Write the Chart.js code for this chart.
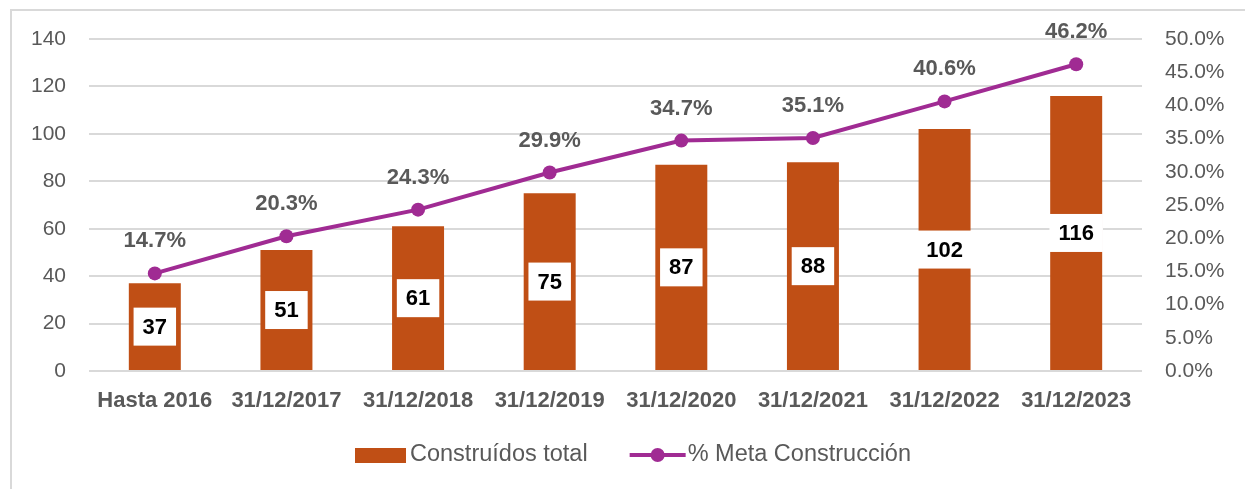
<!DOCTYPE html>
<html>
<head>
<meta charset="utf-8">
<script src="https://cdn.jsdelivr.net/npm/chart.js@4.4.1/dist/chart.umd.min.js"></script>
<style>
    html, body { margin: 0; padding: 0; background: #fff; overflow: hidden; }
    #wrap { position: relative; width: 1245px; height: 489px; }
    #frame { position: absolute; left: 10px; top: 9px; width: 1400px; height: 700px; border: 2px solid #d9d9d9; box-sizing: border-box; }
    #chart { position: absolute; left: 0; top: 0; }
</style>
</head>
<body>
<div id="wrap">
    <div id="frame"></div>
    <canvas id="chart" width="1245" height="489"></canvas>
</div>
<script>
// Chart data
const categories = ['Hasta 2016', '31/12/2017', '31/12/2018', '31/12/2019', '31/12/2020', '31/12/2021', '31/12/2022', '31/12/2023'];
const construidos = [37, 51, 61, 75, 87, 88, 102, 116];
const metaPct = [0.147, 0.203, 0.243, 0.299, 0.347, 0.351, 0.406, 0.462];
const leftTicks = [0, 20, 40, 60, 80, 100, 120, 140];
const rightTicks = [0, 0.05, 0.10, 0.15, 0.20, 0.25, 0.30, 0.35, 0.40, 0.45, 0.50];

const BAR_COLOR = '#C04F15';
const LINE_COLOR = '#A02B93';
const TEXT_COLOR = '#595959';
const GRID_COLOR = '#D9D9D9';
const FONT = '"Liberation Sans", Arial, sans-serif';

// value labels: white boxes in the bars, percentages above the points
const valueLabels = {
    id: 'valueLabels',
    afterDatasetsDraw(chart) {
        const ctx = chart.ctx;
        ctx.save();
        ctx.textAlign = 'center';
        ctx.textBaseline = 'middle';

        const bars = chart.getDatasetMeta(0).data;
        ctx.font = 'bold 22px ' + FONT;
        bars.forEach((bar, i) => {
            const txt = String(construidos[i]);
            const cy = (bar.y + bar.base) / 2;
            const w = ctx.measureText(txt).width + 18;
            const h = 38;
            ctx.fillStyle = '#fff';
            ctx.fillRect(bar.x - w / 2, cy - h / 2, w, h);
            ctx.fillStyle = '#000';
            ctx.fillText(txt, bar.x, cy + 1);
        });

        const pts = chart.getDatasetMeta(1).data;
        ctx.fillStyle = TEXT_COLOR;
        pts.forEach((p, i) => {
            ctx.fillText((metaPct[i] * 100).toFixed(1) + '%', p.x, p.y - 32);
        });
        ctx.restore();
    }
};

// legend at the bottom
const bottomLegend = {
    id: 'bottomLegend',
    afterDraw(chart) {
        const ctx = chart.ctx;
        ctx.save();
        ctx.font = '23.5px ' + FONT;
        ctx.textBaseline = 'middle';
        const t1 = 'Construídos total';
        const t2 = '% Meta Construcción';
        const w1 = ctx.measureText(t1).width;
        const w2 = ctx.measureText(t2).width;
        const total = 51 + 4 + w1 + 42 + 56 + 2 + w2;
        let x = 633 - total / 2;
        const y = 455;

        ctx.fillStyle = BAR_COLOR;
        ctx.fillRect(x, y - 7, 51, 15);
        x += 55;
        ctx.fillStyle = TEXT_COLOR;
        ctx.fillText(t1, x, y);
        x += w1 + 42;

        ctx.strokeStyle = LINE_COLOR;
        ctx.lineWidth = 4;
        ctx.beginPath();
        ctx.moveTo(x, y);
        ctx.lineTo(x + 56, y);
        ctx.stroke();
        ctx.fillStyle = LINE_COLOR;
        ctx.beginPath();
        ctx.arc(x + 28, y, 7, 0, Math.PI * 2);
        ctx.fill();
        x += 58;
        ctx.fillStyle = TEXT_COLOR;
        ctx.fillText(t2, x, y);
        ctx.restore();
    }
};

new Chart(document.getElementById('chart'), {
    data: {
        labels: categories,
        datasets: [
            {
                type: 'bar',
                label: 'Construídos total',
                data: construidos,
                backgroundColor: BAR_COLOR,
                borderWidth: 0,
                barPercentage: 0.395,
                categoryPercentage: 1,
                yAxisID: 'y',
                order: 1
            },
            {
                type: 'line',
                label: '% Meta Construcción',
                data: metaPct,
                borderColor: LINE_COLOR,
                backgroundColor: LINE_COLOR,
                borderWidth: 4,
                pointRadius: 7,
                pointBackgroundColor: LINE_COLOR,
                pointBorderWidth: 0,
                tension: 0,
                yAxisID: 'y1',
                order: 0
            }
        ]
    },
    options: {
        responsive: false,
        animation: false,
        devicePixelRatio: 1,
        layout: { padding: { top: 39, bottom: 58, left: 0, right: 0 } },
        plugins: {
            legend: { display: false },
            tooltip: { enabled: false },
            title: { display: false }
        },
        scales: {
            x: {
                grid: { display: false, drawTicks: false },
                border: { display: false },
                ticks: {
                    color: TEXT_COLOR,
                    font: { size: 22, weight: 'bold', family: FONT },
                    padding: 17,
                    autoSkip: false,
                    maxRotation: 0
                },
                afterFit(scale) { scale.height = 60; }
            },
            y: {
                position: 'left',
                min: 0,
                max: 140,
                grid: { color: GRID_COLOR, lineWidth: 2, drawTicks: false },
                border: { display: false },
                afterBuildTicks(scale) { scale.ticks = leftTicks.map(v => ({ value: v })); },
                ticks: {
                    color: TEXT_COLOR,
                    font: { size: 21, family: FONT },
                    padding: 23
                },
                afterFit(scale) { scale.width = 89; }
            },
            y1: {
                position: 'right',
                min: 0,
                max: 0.5,
                grid: { display: false, drawTicks: false },
                border: { display: false },
                afterBuildTicks(scale) { scale.ticks = rightTicks.map(v => ({ value: v })); },
                ticks: {
                    color: TEXT_COLOR,
                    font: { size: 21, family: FONT },
                    padding: 23,
                    callback: v => (v * 100).toFixed(1) + '%'
                },
                afterFit(scale) { scale.width = 103; }
            }
        }
    },
    plugins: [valueLabels, bottomLegend]
});
</script>
</body>
</html>
